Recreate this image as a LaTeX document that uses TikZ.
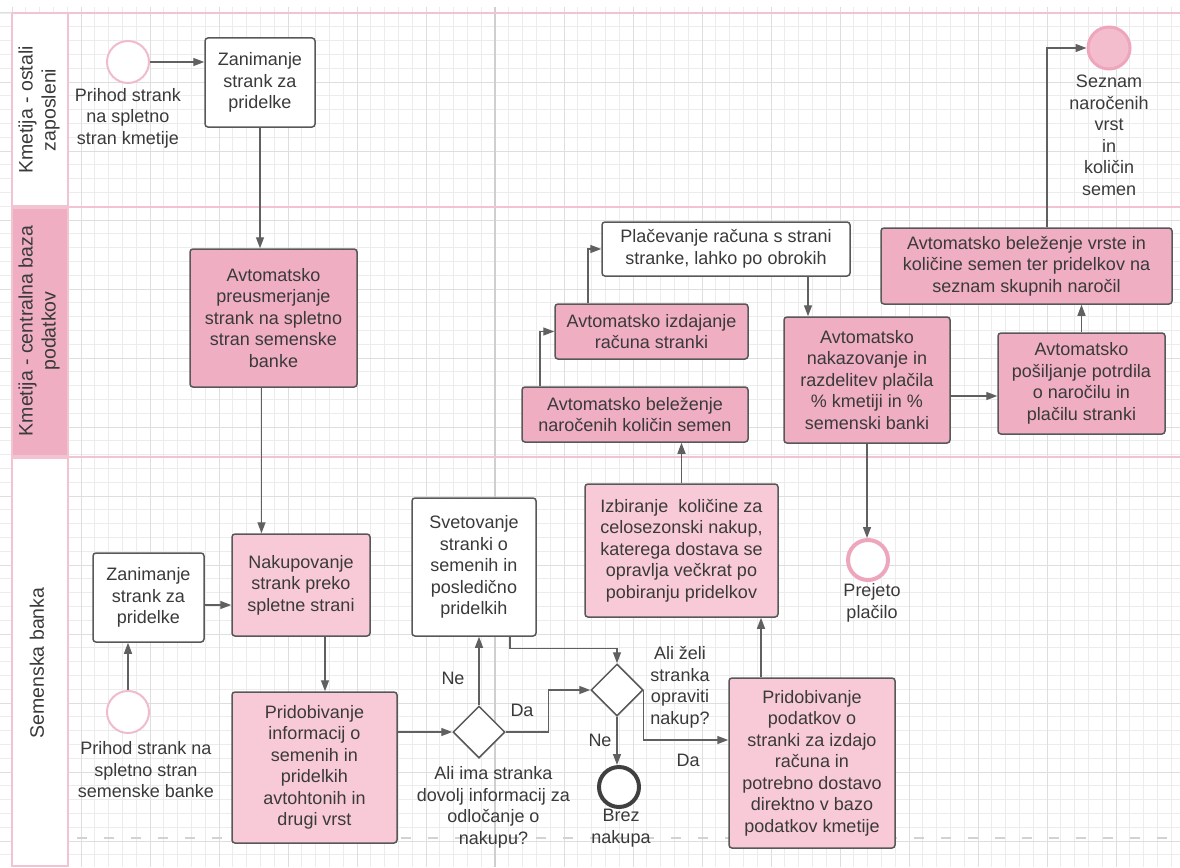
\documentclass[tikz,border=0pt]{standalone}
\usepackage{fontspec}
\setmainfont{Liberation Sans}
\usetikzlibrary{arrows.meta,shapes.geometric,calc}

\definecolor{txt}{HTML}{3A3A3A}
\definecolor{edgegray}{HTML}{585858}
\definecolor{flowgray}{HTML}{606060}
\definecolor{pinkA}{HTML}{F0AEC3}
\definecolor{pinkB}{HTML}{F8CAD7}
\definecolor{lanepink}{HTML}{F2C4D1}
\definecolor{gminorc}{HTML}{ECECEC}
\definecolor{gmajorc}{HTML}{DEDEDE}
\definecolor{gdarkc}{HTML}{CFCFCF}
\definecolor{dashc}{HTML}{D2D2D2}
\definecolor{ringpink}{HTML}{EEA6BD}
\definecolor{startpink}{HTML}{F0BCCB}
\definecolor{endfill}{HTML}{F4BDCD}

\begin{document}
\begin{tikzpicture}[x=1pt,y=-1pt,
  basefont/.style={font=\fontsize{18}{21.5}\selectfont, text=txt},
  task/.style={basefont, draw=edgegray, line width=1.5pt, rounded corners=3pt,
    align=center, inner sep=0pt},
  whitebox/.style={task, fill=white},
  darkbox/.style={task, fill=pinkA},
  lightbox/.style={task, fill=pinkB},
  dims/.style 2 args={minimum width=#1pt, minimum height=#2pt},
  gate/.style={diamond, aspect=1, draw=edgegray, line width=1.5pt, fill=white,
    minimum width=52pt, minimum height=52pt, inner sep=0pt},
  startev/.style={circle, draw=startpink, line width=2pt, fill=white,
    minimum size=42pt, inner sep=0pt},
  lbl/.style={basefont, align=center, inner sep=0pt},
  lanelabel/.style={font=\fontsize{19.5}{23}\selectfont, text=txt, align=center,
    rotate=90, inner sep=0pt},
  flow/.style={draw=flowgray, line width=1.4pt,
    -{Triangle[length=11pt,width=8pt]}},
  gminor/.style={draw=gminorc, line width=0.8pt},
  gmajor/.style={draw=gmajorc, line width=1pt},
  lane/.style={draw=lanepink, line width=1.6pt}]

\useasboundingbox (0,0) rectangle (1180,867);
\fill[white] (0,0) rectangle (1180,867);

% background grid
\begin{scope}
  \clip (0,7) rectangle (1180,867);
  \foreach \i in {-1,...,85} \draw[gminor] ({12+13.8*\i},7) -- ({12+13.8*\i},867);
  \foreach \j in {-1,...,62} \draw[gminor] (0,{13+13.8*\j}) -- (1180,{13+13.8*\j});
  \foreach \i in {-1,...,17} \draw[gmajor] ({12+69*\i},7) -- ({12+69*\i},867);
  \foreach \j in {-1,...,13} \draw[gmajor] (0,{13+69*\j}) -- (1180,{13+69*\j});
  \draw[draw=gdarkc, line width=1.2pt] (495,7) -- (495,867);
\end{scope}

% swimlanes
\draw[lane] (12,13) -- (1180,13);
\draw[lane] (12,207) -- (1180,207);
\draw[lane] (12,457) -- (1180,457);
\draw[lane, fill=white] (12,13) rectangle (68,206);
\draw[lane, fill=pinkA] (12,208) rectangle (68,456);
\draw[lane, fill=white] (12,458) rectangle (68,866);

\node[lanelabel] (lane1) at (39,110) {Kmetija - ostali\\zaposleni};
\node[lanelabel] (lane2) at (39,331) {Kmetija - centralna baza\\podatkov};
\node[lanelabel] (lane3) at (37,663) {Semenska banka};

% dashed divider in the bank lane
\draw[draw=dashc, line width=2pt, dash pattern=on 10pt off 17pt] (77,838) -- (1180,838);

% --- lane 1
\node[startev] (s1) at (128,62) {};
\node[lbl] (s1lab) at (128,118) {Prihod strank\\na spletno\\stran kmetije};
\node[whitebox, dims={110}{89}] (zan1) at (260,82.5) {Zanimanje\\strank za\\pridelke};
\node[circle, draw=ringpink, line width=3pt, fill=endfill, minimum size=42pt,
  inner sep=0pt] (esez) at (1109,48) {};
\node[lbl] (sezlab) at (1109,135.5) {Seznam\\naročenih\\vrst\\in\\količin\\semen};

% --- lane 2
\node[darkbox, dims={167}{138}] (preus) at (273.5,318)
  {Avtomatsko\\preusmerjanje\\strank na spletno\\stran semenske\\banke};
\node[darkbox, dims={226}{55}] (bel1) at (635,414.5)
  {Avtomatsko beleženje\\naročenih količin semen};
\node[darkbox, dims={193}{55}] (izd) at (651.5,331.5)
  {Avtomatsko izdajanje\\računa stranki};
\node[whitebox, dims={248}{54}] (plac) at (726,249)
  {Plačevanje računa s strani\\stranke, lahko po obrokih};
\node[darkbox, dims={166}{126}] (nakaz) at (867,380)
  {Avtomatsko\\nakazovanje in\\razdelitev plačila\\\% kmetiji in \%\\semenski banki};
\node[darkbox, dims={167}{101}] (posil) at (1081.5,383.5)
  {Avtomatsko\\pošiljanje potrdila\\o naročilu in\\plačilu stranki};
\node[darkbox, dims={291}{76}] (bel2) at (1026.5,266)
  {Avtomatsko beleženje vrste in\\količine semen ter pridelkov na\\seznam skupnih naročil};

% --- lane 3
\node[whitebox, dims={111}{89}] (zan2) at (148.5,597.5) {Zanimanje\\strank za\\pridelke};
\node[startev] (s2) at (128,712) {};
\node[lbl] (s2lab) at (146,770) {Prihod strank na\\spletno stran\\semenske banke};
\node[lightbox, dims={138}{102}] (nakup) at (301,585)
  {Nakupovanje\\strank preko\\spletne strani};
\node[lightbox, dims={165}{151}] (prid1) at (314.5,767.5)
  {Pridobivanje\\informacij o\\semenih in\\pridelkih\\avtohtonih in\\drugi vrst};
\node[whitebox, dims={124}{138}] (svet) at (474,567)
  {Svetovanje\\stranki o\\semenih in\\posledično\\pridelkih};
\node[gate] (d1) at (479,732) {};
\node[lbl] (d1lab) at (493.5,807.5)
  {Ali ima stranka\\dovolj informacij za\\odločanje o\\nakupu?};
\node[gate] (d2) at (617,690) {};
\node[lbl] (d2lab) at (680,687.5) {Ali želi\\stranka\\opraviti\\nakup?};
\node[circle, draw=black!75, line width=4pt, fill=white, minimum size=40pt,
  inner sep=0pt] (ebrez) at (619,787) {};
\node[lbl] (brezlab) at (621,828) {Brez\\nakupa};
\node[lightbox, dims={193}{133}] (izb) at (681.5,550.5)
  {Izbiranje\ \ količine za\\celosezonski nakup,\\katerega dostava se\\opravlja večkrat po\\pobiranju pridelkov};
\node[lightbox, dims={166}{170}] (prid2) at (812,763)
  {Pridobivanje\\podatkov o\\stranki za izdajo\\računa in\\potrebno dostavo\\direktno v bazo\\podatkov kmetije};
\node[circle, draw=ringpink, line width=4pt, fill=white, minimum size=40pt,
  inner sep=0pt] (eprej) at (868,560) {};
\node[lbl] (prejlab) at (872,603) {Prejeto\\plačilo};

% branch labels
\node[lbl] (ne1) at (453,678) {Ne};
\node[lbl] (da1) at (522,710) {Da};
\node[lbl] (ne2) at (600,740) {Ne};
\node[lbl] (da2) at (688,760) {Da};

% --- connectors
\draw[flow] (s1.east) -- (s1.east -| zan1.west);
\draw[flow] (zan1.south) -- (zan1.south |- preus.north);
\draw[flow] ([xshift=-12pt]preus.south) -- ([xshift=-12pt]preus.south |- nakup.north);
\draw[flow] ([yshift=-7.5pt]zan2.east) -- ([yshift=-7.5pt]zan2.east -| nakup.west);
\draw[flow] (s2.north) -- (s2.north |- zan2.south);
\draw[flow] ([xshift=24pt]nakup.south) -- ([xshift=24pt]nakup.south |- prid1.north);
\draw[flow] (d1.west -| prid1.east) -- (d1.west);
\draw[flow] (d1.north) -- (d1.north |- svet.south);
\draw[flow] (d1.east) -- ++(43,0) |- (d2.west);
\draw[flow] ([xshift=36pt]svet.south) -- ++(0,12) -| (d2.north);
\draw[flow] (d2.south) -- (d2.south |- ebrez.north);
\draw[flow] (d2.east) |- ([yshift=23pt]prid2.west);
\draw[flow] ([xshift=-51pt]prid2.north) -- ([xshift=-51pt]prid2.north |- izb.south);
\draw[flow] (izb.north) -- (izb.north |- bel1.south);
\draw[flow] ([xshift=-95pt]bel1.north) |- (izd.west);
\draw[flow] ([xshift=-63.5pt]izd.north) |- (plac.west);
\draw[flow] ([xshift=82pt]plac.south) -- ([xshift=82pt]plac.south |- nakaz.north);
\draw[flow] ([yshift=-16pt]nakaz.east) -- ([yshift=-16pt]nakaz.east -| posil.west);
\draw[flow] (posil.north) -- (posil.north |- bel2.south);
\draw[flow] ([xshift=20.5pt]bel2.north) |- (esez.west);
\draw[flow] (nakaz.south) -- (nakaz.south |- eprej.north);

\end{tikzpicture}
\end{document}
